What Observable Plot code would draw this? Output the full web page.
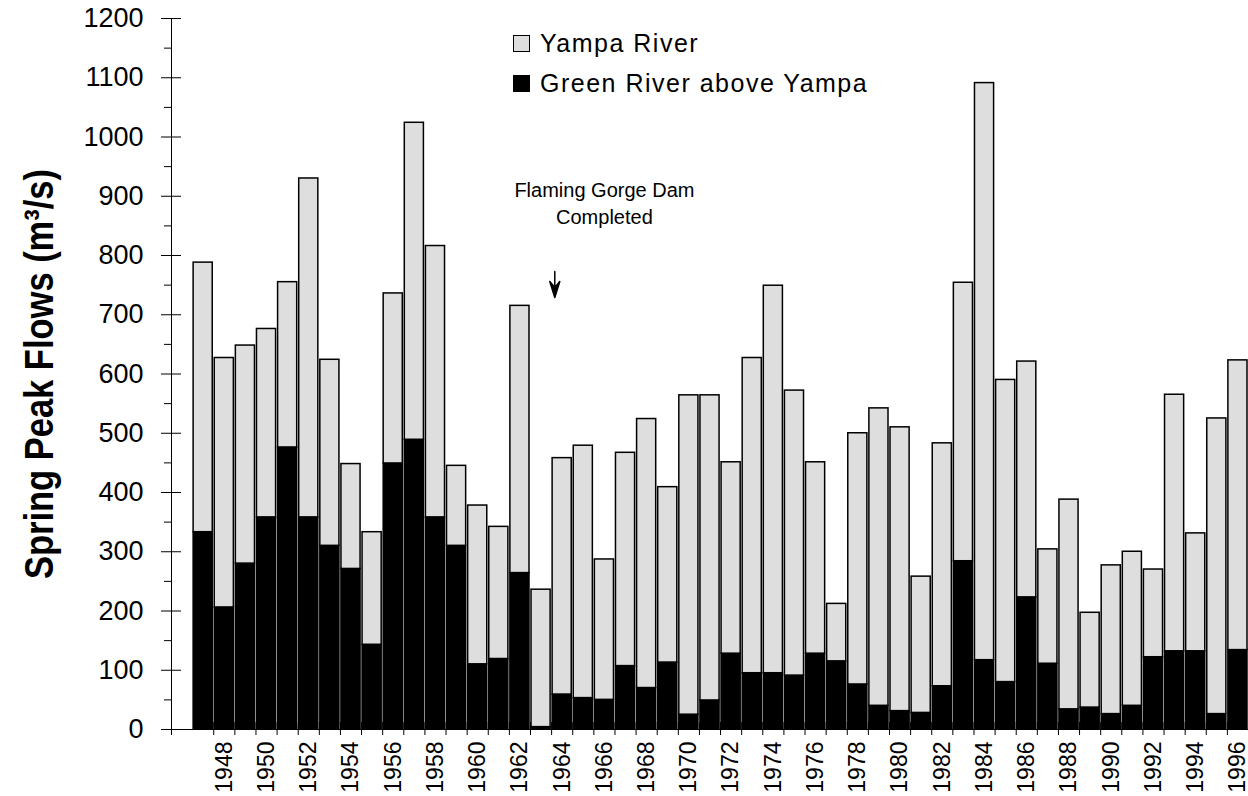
<!DOCTYPE html>
<html>
<head>
<meta charset="utf-8">
<script src="https://cdn.jsdelivr.net/npm/d3@7"></script>
<script src="https://cdn.jsdelivr.net/npm/@observablehq/plot@0.6"></script>
<style>
  body { margin: 0; background: #fff; }
  #chart { position: relative; width: 1248px; height: 796px; font-family: "Liberation Sans", Arial, sans-serif; color: #000; }
  .legend-row { position: absolute; left: 513px; display: flex; align-items: center; font-size: 25px; letter-spacing: 1.5px; line-height: 1; white-space: nowrap; }
  .swatch { width: 15px; height: 15px; border: 1.5px solid #000; margin-right: 10px; box-sizing: content-box; }
</style>
</head>
<body>
<div id="chart"></div>
<script>
// Spring peak flows (m³/s), Green River above the Yampa confluence and the Yampa River
const years = [
  1947, 1948, 1949, 1950, 1951, 1952, 1953, 1954, 1955, 1956,
  1957, 1958, 1959, 1960, 1961, 1962, 1963, 1964, 1965, 1966,
  1967, 1968, 1969, 1970, 1971, 1972, 1973, 1974, 1975, 1976,
  1977, 1978, 1979, 1980, 1981, 1982, 1983, 1984, 1985, 1986,
  1987, 1988, 1989, 1990, 1991, 1992, 1993, 1994, 1995, 1996
];
const greenRiver = [
  333, 206, 280, 358, 476, 358, 310, 271, 143, 449,
  489, 358, 310, 110, 119, 264, 4, 59, 53, 50,
  107, 70, 113, 25, 49, 128, 95, 95, 91, 128,
  115, 76, 40, 31, 28, 73, 284, 117, 80, 223,
  111, 34, 37, 26, 40, 122, 132, 132, 26, 134
];
const yampaRiver = [
  455, 421, 368, 318, 279, 572, 314, 177, 190, 287,
  535, 458, 135, 268, 223, 451, 232, 399, 426, 237,
  360, 454, 296, 539, 515, 323, 532, 654, 481, 323,
  97, 424, 502, 479, 230, 410, 470, 974, 510, 398,
  193, 354, 160, 251, 260, 148, 433, 199, 499, 489
];
const seriesNames = ["Green River above Yampa", "Yampa River"];
const seriesColors = ["#000000", "#dedede"];

// Axis ticks
const yearLabels = [
  1948, 1950, 1952, 1954, 1956, 1958, 1960, 1962, 1964, 1966, 1968, 1970, 1972,
  1974, 1976, 1978, 1980, 1982, 1984, 1986, 1988, 1990, 1992, 1994, 1996
];
const yMajor = [0, 100, 200, 300, 400, 500, 600, 700, 800, 900, 1000, 1100, 1200];
const yMinor = [50, 150, 250, 350, 450, 550, 650, 750, 850, 950, 1050, 1150];
const yearBounds = [1945.5].concat(years.map(y => y + 0.5));

// Annotation
const damNote = [{year: 1966, flow: 890, note: "Flaming Gorge Dam\nCompleted"}];
const damArrow = [{year: 1963.65, flow: 729}];
const yTitle = "Spring Peak Flows (m\u00B3/s)";

// Long table: green river rows first so they sit at the bottom of each stack
const rows = [];
years.forEach((year, i) => rows.push({year, series: seriesNames[0], flow: greenRiver[i]}));
years.forEach((year, i) => rows.push({year, series: seriesNames[1], flow: yampaRiver[i]}));

// Barbed, filled arrowhead on a thin shaft
const barbedArrow = {
  draw(context, l) {
    context.moveTo(0, 0);
    context.lineTo(0, -l + 10);
    context.moveTo(0, -l);
    context.lineTo(5, -l + 16);
    context.lineTo(0, -l + 10);
    context.lineTo(-5, -l + 16);
    context.closePath();
  }
};

const chart = Plot.plot({
  width: 1248,
  height: 796,
  marginLeft: 171,
  marginRight: 0,
  marginTop: 18,
  marginBottom: 67,
  style: {fontFamily: "'Liberation Sans', Arial, sans-serif", background: "white", color: "black", overflow: "visible"},
  x: {domain: [1945.5, 1996.5]},
  y: {domain: [0, 1200]},
  color: {domain: seriesNames, range: seriesColors},
  marks: [
    // tick marks between years, crossing the baseline
    Plot.axisX({ticks: yearBounds, tickSize: 13, dy: -7, tickFormat: () => "", label: null}),
    Plot.axisX({ticks: yearLabels, tickSize: 0, tickPadding: 12, tickRotate: -90, tickFormat: d => String(d), fontSize: 23, label: null}),
    // major ticks crossing the y axis line, minor ticks on the outside
    Plot.axisY({ticks: yMajor, tickSize: 20, dx: 10, tickFormat: () => "", label: null}),
    Plot.axisY({ticks: yMinor, tickSize: 7, tickFormat: () => "", label: null}),
    Plot.axisY({ticks: yMajor, tickSize: 0, tickPadding: 28, tickFormat: d => String(d), fontSize: 27, label: null}),
    Plot.rectY(rows, Plot.stackY({
      x1: d => d.year - 0.5,
      x2: d => d.year + 0.5,
      y: "flow",
      fill: "series",
      stroke: "black",
      strokeWidth: 1.5,
      insetLeft: 1,
      insetRight: 1
    })),
    Plot.ruleX([1945.5], {stroke: "black"}),
    Plot.ruleY([0], {stroke: "black"}),
    Plot.text(damNote, {x: "year", y: "flow", text: "note", fontSize: 20, lineHeight: 1.35}),
    Plot.vector(damArrow, {x: "year", y: "flow", length: 26, rotate: 180, anchor: "end", shape: barbedArrow, stroke: "black", fill: "black", strokeWidth: 1.5}),
    Plot.text([yTitle], {frameAnchor: "left", textAnchor: "middle", text: d => d, dx: -132, rotate: -90, fontSize: 41, fontWeight: "bold"})
  ]
});

// The axis title is set in a condensed bold face: fit it to a fixed run length
d3.select(chart).selectAll("text")
  .filter(function() { return this.textContent === yTitle; })
  .attr("textLength", 410)
  .attr("lengthAdjust", "spacingAndGlyphs");

const root = document.getElementById("chart");
root.appendChild(chart);

// Legend, drawn inside the plot area (light series listed first)
const legendItems = [
  {name: seriesNames[1], color: seriesColors[1], top: 31},
  {name: seriesNames[0], color: seriesColors[0], top: 71}
];
legendItems.forEach(item => {
  const row = document.createElement("div");
  row.className = "legend-row";
  row.style.top = item.top + "px";
  const sw = document.createElement("span");
  sw.className = "swatch";
  sw.style.background = item.color;
  const label = document.createElement("span");
  label.textContent = item.name;
  row.appendChild(sw);
  row.appendChild(label);
  root.appendChild(row);
});
</script>
</body>
</html>
